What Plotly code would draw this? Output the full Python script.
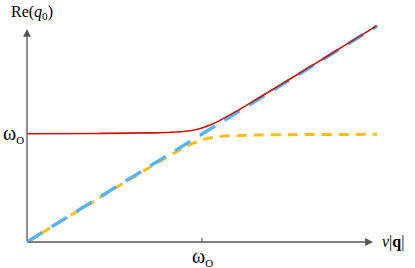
import plotly.graph_objects as go

# data (in units of omega_O)
x_pts = [0, 0.4, 0.7, 0.85, 0.95, 1.0, 1.05, 1.1, 1.2, 1.3, 1.45, 1.6, 1.8, 2.0]
upper = [1.003, 1.005, 1.010, 1.018, 1.035, 1.055, 1.085, 1.124, 1.214, 1.310, 1.457, 1.605, 1.804, 2.003]
lower = [0.0, 0.395, 0.69, 0.832, 0.915, 0.945, 0.965, 0.976, 0.986, 0.990, 0.993, 0.995, 0.996, 0.997]
diag_x = [0, 2.0]
diag_y = [0, 2.0]

W, H = 415, 268
ox, oy = 27, 242
sx, sy = 175.0, 108.0
xr = [-ox / sx, (W - ox) / sx]
yr = [-(H - oy) / sy, oy / sy]

fig = go.Figure()
fig.add_trace(go.Scatter(x=x_pts, y=lower, mode="lines", line=dict(color="#FDBD1F", width=3, dash="10px,7px", shape="spline"), hoverinfo="skip"))
fig.add_trace(go.Scatter(x=diag_x, y=diag_y, mode="lines", line=dict(color="#5BB4F2", width=3.5, dash="18px,11px"), hoverinfo="skip"))
fig.add_trace(go.Scatter(x=x_pts, y=upper, mode="lines", line=dict(color="#C4160E", width=1.6, shape="spline"), hoverinfo="skip"))

axc = "#555555"
font = dict(family="Liberation Serif", size=16, color="black")
wfont = dict(family="Liberation Serif", size=20, color="black")
omega = "ω<sub><span style='font-size:11px'>O</span></sub>"

anns = [
    # y axis arrow
    dict(x=0, y=(oy - 29) / sy, ax=0, ay=0, xref="x", yref="y", axref="x", ayref="y",
         showarrow=True, arrowhead=2, arrowsize=1.2, arrowwidth=1.3, arrowcolor=axc, text=""),
    # x axis arrow
    dict(x=(373 - ox) / sx, y=0, ax=0, ay=0, xref="x", yref="y", axref="x", ayref="y",
         showarrow=True, arrowhead=2, arrowsize=1.2, arrowwidth=1.3, arrowcolor=axc, text=""),
    dict(x=0.03, y=(oy - 12) / sy, xref="x", yref="y", text="Re(<i>q</i><sub>0</sub>)",
         showarrow=False, font=font, xanchor="center", yanchor="middle"),
    dict(x=-0.005, y=1.0, xref="x", yref="y", text=omega, showarrow=False,
         font=wfont, xanchor="right", yanchor="middle"),
    dict(x=1.0, y=-0.14, xref="x", yref="y", text=omega, showarrow=False,
         font=wfont, xanchor="center", yanchor="middle"),
    dict(x=(380 - ox) / sx, y=0, xref="x", yref="y", text="<i>v</i>|<b>q</b>|", showarrow=False,
         font=font, xanchor="left", yanchor="middle"),
]

shapes = [
    dict(type="line", xref="x", yref="y", x0=1.0, x1=1.0, y0=0, y1=4 / sy, line=dict(color=axc, width=1.2)),
]

fig.update_layout(
    width=W, height=H, margin=dict(l=0, r=0, t=0, b=0),
    paper_bgcolor="white", plot_bgcolor="white", showlegend=False,
    xaxis=dict(range=xr, visible=False, fixedrange=True),
    yaxis=dict(range=yr, visible=False, fixedrange=True),
    annotations=anns, shapes=shapes,
)
fig.write_html("out.html", config={"displayModeBar": False},
               post_script="document.body.style.margin='0';document.body.style.overflow='hidden';")
